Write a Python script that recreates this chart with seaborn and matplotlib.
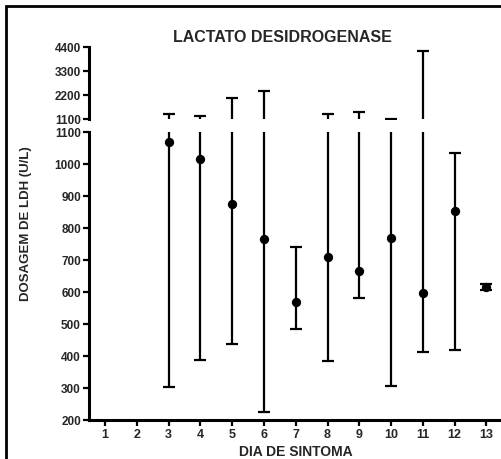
import numpy as np
import pandas as pd
import matplotlib
matplotlib.use("Agg")
import matplotlib.pyplot as plt
import seaborn as sns
from matplotlib.patches import Rectangle

# ---- data ----
days = [3, 4, 5, 6, 7, 8, 9, 10, 11, 12, 13]
mean_ldh = [1067, 1015, 873, 765, 567, 708, 666, 769, 595, 851, 614]
low_ldh = [301, 386, 436, 223, 483, 382, 580, 305, 412, 417, 605]
high_ldh = [1329, 1251, 2062, 2396, 739, 1329, 1434, 1115, 4200, 1033, 624]
x_ticks = list(range(1, 14))
lower_yticks = [200, 300, 400, 500, 600, 700, 800, 900, 1000, 1100]
upper_yticks = [1100, 2200, 3300, 4400]

df = pd.DataFrame({"dia": days, "ldh": mean_ldh, "low": low_ldh, "high": high_ldh})

sns.set_theme(style="white")
plt.rcParams["font.family"] = ["Liberation Sans", "DejaVu Sans"]
plt.rcParams["font.weight"] = "bold"

W, H = 501, 460
fig = plt.figure(figsize=(W / 100, H / 100), dpi=100)

left = 89.3 / W
width = (W - 89.3) / W
ax_lo = fig.add_axes([left, (H - 420.7) / H, width, 288.0 / H])
ax_hi = fig.add_axes([left, (H - 120.0) / H, width, 72.0 / H])

# figure frame (cropped on right/bottom in the reference)
fig.patches.append(Rectangle((5.5 / W, -0.1), 1.2, (H - 6.5) / H + 0.1,
                             transform=fig.transFigure, fill=False,
                             edgecolor="black", linewidth=2.0))

LO_MAX, HI_MIN = 1100, 1100

# lower panel: full error bars + mean points
yerr = np.array([df["ldh"] - df["low"], df["high"] - df["ldh"]])
ax_lo.errorbar(df["dia"], df["ldh"], yerr=yerr, fmt="none", ecolor="black",
               elinewidth=1.6, capsize=4, capthick=1.6, zorder=2)
sns.scatterplot(data=df, x="dia", y="ldh", ax=ax_lo, color="black", s=45,
                edgecolor="black", linewidth=0, zorder=3, legend=False)

# upper panel: only the parts of the bars that reach above the break
up = df[df["high"] > HI_MIN]
ax_hi.errorbar(up["dia"], up["high"], yerr=[up["high"] - up["ldh"], np.zeros(len(up))],
               fmt="none", ecolor="black", elinewidth=1.6, capsize=0, zorder=2)
sns.scatterplot(data=up, x="dia", y="high", ax=ax_hi, marker="_", s=80,
                color="black", linewidth=1.6, zorder=3, legend=False)

for ax in (ax_lo, ax_hi):
    ax.set_xlim(0.5, 13.46)
    ax.set_facecolor("none")
    for side in ("top", "right"):
        ax.spines[side].set_visible(False)
    for side in ("left", "bottom"):
        ax.spines[side].set_linewidth(2.2)
        ax.spines[side].set_color("black")
    ax.tick_params(axis="both", which="major", direction="out", length=4.5,
                   width=1.6, color="black", pad=1.5)
    ax.set_xlabel("")
    ax.set_ylabel("")

ax_lo.set_ylim(200, LO_MAX)
ax_lo.set_yticks(lower_yticks)
ax_lo.set_yticklabels([str(v) for v in lower_yticks], fontsize=8.5, fontweight="bold")
ax_lo.set_xticks(x_ticks)
ax_lo.set_xticklabels([str(v) for v in x_ticks], fontsize=9, fontweight="bold")
ax_lo.tick_params(axis="x", bottom=True)
ax_lo.tick_params(axis="y", left=True)

ax_hi.set_ylim(HI_MIN, 4400)
ax_hi.set_yticks(upper_yticks)
ax_hi.set_yticklabels([str(v) for v in upper_yticks], fontsize=8.5, fontweight="bold")
ax_hi.spines["bottom"].set_visible(False)
ax_hi.set_xticks([])
ax_hi.tick_params(axis="y", left=True)

fig.text(282 / W, 1 - 37 / H, "LACTATO DESIDROGENASE", ha="center", va="center",
         fontsize=11.5, fontweight="bold")
fig.text(295.5 / W, 1 - 452.5 / H, "DIA DE SINTOMA", ha="center", va="center",
         fontsize=10, fontweight="bold")
fig.text(26 / W, 1 - 223.5 / H, "DOSAGEM DE LDH (U/L)", ha="center", va="center",
         rotation=90, fontsize=9.5, fontweight="bold")

fig.savefig("out.png", dpi=100)
